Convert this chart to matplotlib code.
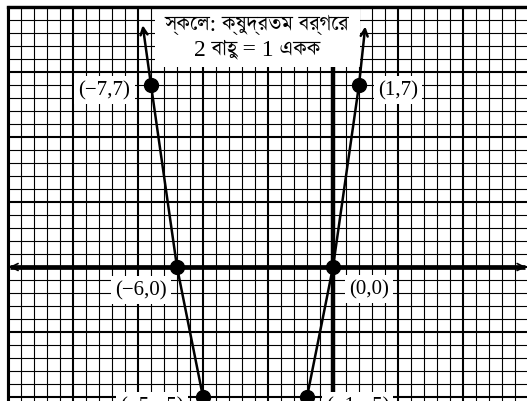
import matplotlib
matplotlib.use("Agg")
import matplotlib.pyplot as plt
from matplotlib import font_manager
from matplotlib.ft2font import FT2Font
from matplotlib.patches import Rectangle
import numpy as np

# table of values for y = x^2 + 6x
x_vals = [-7, -6, -5, -4, -3, -2, -1, 0, 1]
y_vals = [7, 0, -5, -8, -9, -8, -5, 0, 7]

# labelled points
pt_x = [-7, -6, -5, -1, 0, 1]
pt_y = [7, 0, -5, -5, 0, 7]
pt_labels = ["(\u22127,7)", "(\u22126,0)", "(\u22125,\u22125)",
             "(\u22121,\u22125)", "(0,0)", "(1,7)"]
# label centres (data units)
lab_x = [-8.79, -7.4, -6.96, 0.94, 1.37, 2.5]
lab_y = [6.8, -0.88, -5.35, -5.35, -0.85, 6.8]

# curve continuation beyond the end points
arrow_tips = [(-7.32, 9.3), (1.24, 9.25)]

title_lines = ["স্কেল: ক্ষুদ্রতম বর্গের", "2 বাহু = 1 একক"]


def bengali_fonts():
    found = []
    for f in font_manager.fontManager.ttflist:
        try:
            cmap = FT2Font(f.fname).get_charmap()
        except Exception:
            continue
        if ord("ক") in cmap and f.name not in found:
            found.append(f.name)
    # prefer a serif face when one is available
    found.sort(key=lambda n: 0 if "Serif" in n else 1)
    return found


bn = bengali_fonts()
serif = ["Liberation Serif"] + bn[:1] + ["DejaVu Serif"]

W, H = 527, 402
fig = plt.figure(figsize=(W / 100, H / 100), dpi=100)
ax = fig.add_axes([0, 0, 1, 1])
unit = 26.0
x0, y0 = 333, 268
xmin, xmax = -x0 / unit, (W - x0) / unit
ymin, ymax = -(H - y0) / unit, y0 / unit
ax.set_xlim(xmin, xmax)
ax.set_ylim(ymin, ymax)
ax.axis("off")

gx_left, gy_top = -12.5, 10.0

# graph paper
for xv in np.arange(gx_left, xmax, 0.5):
    major = abs(xv / 2.5 - round(xv / 2.5)) < 1e-9
    ax.plot([xv, xv], [ymin - 1, gy_top], color="black",
            lw=1.5 if major else 0.8, zorder=1, solid_capstyle="butt")
for yv in np.arange(gy_top, ymin - 0.5, -0.5):
    major = abs(yv / 2.5 - round(yv / 2.5)) < 1e-9
    ax.plot([gx_left, xmax + 1], [yv, yv], color="black",
            lw=1.5 if major else 0.8, zorder=1, solid_capstyle="butt")

# axes
ax.plot([-12.42, 7.38], [0, 0], color="black", lw=3.4, zorder=2,
        solid_capstyle="butt")
ax.plot([0, 0], [ymin - 1, gy_top], color="black", lw=3.2, zorder=2,
        solid_capstyle="butt")
for tip, base in [((-12.45, 0), (-11.8, 0)), ((7.42, 0), (6.8, 0))]:
    ax.annotate("", xy=tip, xytext=base,
                arrowprops=dict(arrowstyle="->,head_length=0.5,head_width=0.25",
                                lw=1.2, color="black", shrinkA=0, shrinkB=0),
                zorder=3)

# title box
ax.add_patch(Rectangle((-6.85, 7.69), 7.9, gy_top - 7.69 - 0.03,
                       facecolor="white", edgecolor="none", zorder=4))
ax.text(-2.92, 9.33, title_lines[0], ha="center", va="center",
        fontsize=17, family=serif, zorder=5)
ax.text(-2.92, 8.38, title_lines[1], ha="center", va="center",
        fontsize=17, family=serif, zorder=5)

# outer border of the paper
ax.plot([gx_left, gx_left], [ymin - 1, gy_top], color="black", lw=2.2,
        zorder=6, solid_capstyle="projecting")
ax.plot([gx_left, xmax + 1], [gy_top, gy_top], color="black", lw=2.4,
        zorder=6, solid_capstyle="projecting")

# curve through the table of values
ax.plot(x_vals, y_vals, color="black", lw=1.8, zorder=7)
for (tx, ty), (bx, by) in zip(arrow_tips, [(x_vals[0], y_vals[0]),
                                            (x_vals[-1], y_vals[-1])]):
    ax.annotate("", xy=(tx, ty), xytext=(bx, by),
                arrowprops=dict(arrowstyle="->,head_length=0.5,head_width=0.25",
                                lw=1.8, color="black", shrinkA=0, shrinkB=0),
                zorder=7)

ax.plot(pt_x, pt_y, "o", color="black", ms=10, zorder=8)

for lx, ly, s in zip(lab_x, lab_y, pt_labels):
    ax.text(lx, ly, s, ha="center", va="center", fontsize=15, family=serif,
            zorder=9,
            bbox=dict(boxstyle="square,pad=0.2", facecolor="white",
                      edgecolor="none"))

fig.savefig("out.png", dpi=100, facecolor="white")
